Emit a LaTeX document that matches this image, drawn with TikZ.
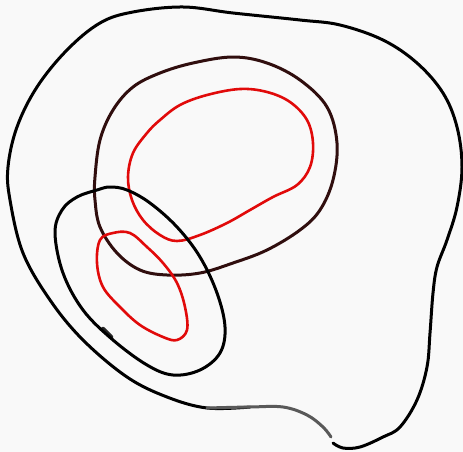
\documentclass[tikz,border=0pt]{standalone}
\usepackage{tikz}

\definecolor{pagegray}{RGB}{249,249,249}
\definecolor{darkmaroon}{RGB}{48,14,14}
\definecolor{penred}{RGB}{225,10,10}

\begin{document}
\begin{tikzpicture}[
    x=1pt, y=-1pt,
    loop/.style={line width=3pt, line cap=round, line join=round},
    outer/.style={loop, black},
    ring/.style={loop, darkmaroon},
    inner/.style={loop, penred, line width=2.6pt}
]
    % background and frame
    \fill[pagegray] (0,0) rectangle (463,452);
    \useasboundingbox (0,0) rectangle (463,452);

    % big outer loop, open at the bottom
    \draw[outer] plot[smooth, tension=0.6] coordinates {
        (333,443) (343,448) (360,447) (383,437) (400,427) (417,400)
        (427,367) (430,333) (433,293) (437,267) (447,240) (457,207)
        (462,167) (457,127) (443,93) (417,63) (383,40) (340,25)
        (300,20) (233,13) (183,7) (133,12) (100,23) (67,50) (37,87)
        (17,127) (8,167) (10,200) (23,253) (50,300) (83,340)
        (127,377) (167,397) (207,408) (250,407)};
    \draw[loop, black!65] plot[smooth, tension=0.6] coordinates {
        (207,408) (250,407) (283,407) (307,415) (323,427) (331,437)};
    \draw[line width=4.5pt, black!85, line cap=round] (103,329) -- (111,337);

    % dark ring
    \draw[ring] plot[smooth cycle, tension=0.6] coordinates {
        (95,177) (100,140) (113,110) (133,87) (160,73) (193,63)
        (233,57) (267,63) (300,80) (327,107) (337,143) (333,180)
        (320,210) (300,230) (267,250) (233,263) (200,273) (167,275)
        (140,270) (117,253) (100,227) (95,200)};

    % big red loop
    \draw[inner] plot[smooth cycle, tension=0.6] coordinates {
        (128,177) (133,153) (147,133) (160,120) (180,105) (207,95)
        (240,89) (267,92) (290,102) (307,120) (313,143) (310,167)
        (297,185) (273,197) (250,210) (227,223) (200,235) (177,241)
        (160,235) (143,220) (132,200)};

    % black oval
    \draw[outer] plot[smooth cycle, tension=0.6] coordinates {
        (97,190) (110,187) (127,190) (150,203) (177,227) (200,257)
        (217,293) (225,327) (220,353) (200,370) (173,375) (147,365)
        (113,340) (83,310) (63,273) (55,233) (62,210) (77,197)};

    % small red loop
    \draw[inner] plot[smooth cycle, tension=0.6] coordinates {
        (100,240) (113,233) (130,233) (147,247) (163,263) (177,283)
        (185,307) (187,330) (177,340) (163,337) (140,325) (120,307)
        (103,287) (97,263)};
\end{tikzpicture}
\end{document}
